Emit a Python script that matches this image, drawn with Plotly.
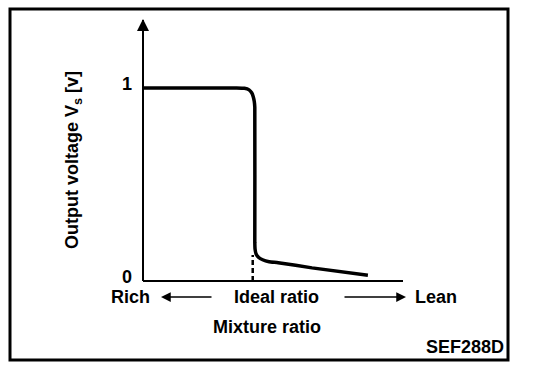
import plotly.graph_objects as go

# ---- data (arbitrary mixture-ratio units on x, output voltage in V on y) ----
curve_x = [0.0, 3.6, 3.9, 4.08, 4.18, 4.24, 4.28, 4.3, 4.3, 4.31, 4.35, 4.45, 4.6, 4.85, 5.2, 6.5, 8.65]
curve_y = [1.0, 1.0, 0.998, 0.99, 0.975, 0.955, 0.93, 0.9, 0.2, 0.165, 0.14, 0.122, 0.11, 0.1, 0.095, 0.068, 0.03]
ideal_x = 4.22
ideal_top = 0.135
y_ticks = [0, 1]
y_ticktext = ["0", "1"]
label_rich = "Rich"
label_ideal = "Ideal ratio"
label_lean = "Lean"
x_title = "Mixture ratio"
y_title = "Output voltage V<sub>s</sub> [v]"
fig_code = "SEF288D"

W, H = 544, 374
L, R, T, B = 143, 403, 20, 281
XR = [0, 10]
YR = [0, 1.352]

def px(x):
    return (x - L) / (R - L)

def py(y):
    return (B - y) / (B - T)

FONT = "Liberation Sans, Arial, sans-serif"
TF = dict(family=FONT, size=18, color="black", weight="bold")

fig = go.Figure()
fig.add_trace(go.Scatter(x=curve_x, y=curve_y, mode="lines",
                         line=dict(color="black", width=3.5, shape="spline", smoothing=0.5),
                         hoverinfo="skip", showlegend=False))
fig.add_trace(go.Scatter(x=[ideal_x, ideal_x], y=[0, ideal_top], mode="lines",
                         line=dict(color="black", width=2.5, dash="5px,3px"),
                         hoverinfo="skip", showlegend=False))

ann = []
# y-axis arrow head
ann.append(dict(x=0, y=YR[1] + 0.005, ax=0, ay=YR[1] - 0.08, xref="x", yref="y", axref="x", ayref="y",
                showarrow=True, arrowhead=2, arrowsize=1.6, arrowwidth=1.5, arrowcolor="black", text=""))
lab_y = py(297)
def label(x, y, text, **kw):
    d = dict(x=px(x), y=py(y), xref="paper", yref="paper", text=text, showarrow=False,
             xanchor="center", yanchor="middle", font=TF)
    d.update(kw)
    return d

ann.append(label(130, 297, label_rich))
ann.append(label(276, 297, label_ideal))
ann.append(label(436, 297, label_lean))
# arrows
ann.append(dict(x=px(161), y=lab_y, ax=px(213), ay=lab_y, xref="x domain", yref="y domain",
                axref="x domain", ayref="y domain", showarrow=True, arrowhead=2, arrowsize=1.3,
                arrowwidth=1.5, arrowcolor="black", text=""))
ann.append(dict(x=px(406), y=lab_y, ax=px(343), ay=lab_y, xref="x domain", yref="y domain",
                axref="x domain", ayref="y domain", showarrow=True, arrowhead=2, arrowsize=1.3,
                arrowwidth=1.5, arrowcolor="black", text=""))
ann.append(label(267, 327, x_title))
ann.append(label(73, 160, y_title, textangle=-90))
ann.append(label(506, 347, fig_code, xanchor="right"))

shapes = [
    dict(type="rect", xref="paper", yref="paper", x0=px(10), x1=px(508), y0=py(360), y1=py(9),
         line=dict(color="black", width=3)),
    dict(type="line", xref="paper", yref="paper", x0=0, x1=0, y0=0, y1=1,
         line=dict(color="black", width=2)),
    dict(type="line", xref="paper", yref="paper", x0=0, x1=1, y0=0, y1=0,
         line=dict(color="black", width=2)),
]

fig.update_layout(
    width=W, height=H,
    margin=dict(l=L, r=W - R, t=T, b=H - B, pad=0),
    paper_bgcolor="white", plot_bgcolor="white",
    xaxis=dict(range=XR, showgrid=False, zeroline=False, showticklabels=False, ticks="",
               showline=False, fixedrange=True),
    yaxis=dict(range=YR, showgrid=False, zeroline=False, tickvals=y_ticks, ticktext=y_ticktext,
               ticks="", showline=False, ticklabelstandoff=10, ticklabelshift=-4,
               tickfont=TF, fixedrange=True),
    annotations=ann, shapes=shapes, showlegend=False,
)

fig.write_html("out.html")
